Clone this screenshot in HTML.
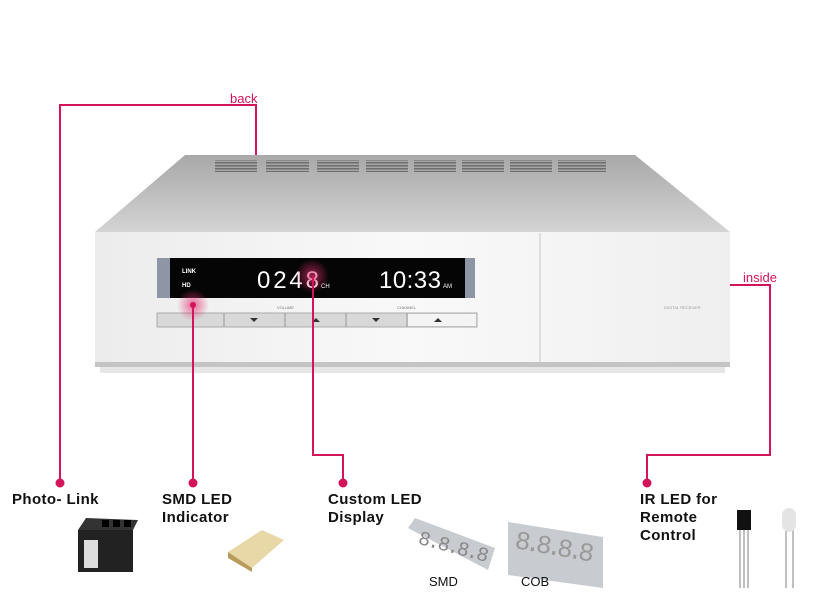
<!DOCTYPE html>
<html><head><meta charset="utf-8"><style>
body{margin:0;width:818px;height:600px;background:#fff;position:relative;overflow:hidden;font-family:"Liberation Sans",sans-serif}
.a{position:absolute}
.lbl{position:absolute;font-weight:bold;font-size:15px;letter-spacing:0.4px;line-height:18px;color:#111}
</style></head><body>
<svg class="a" style="left:0;top:0" width="818" height="600">
<defs>
<linearGradient id="top" x1="0" y1="0" x2="0" y2="1"><stop offset="0" stop-color="#a8a8a8"/><stop offset="1" stop-color="#d4d4d4"/></linearGradient>
<linearGradient id="front" x1="0" y1="0" x2="1" y2="0"><stop offset="0" stop-color="#ececec"/><stop offset=".5" stop-color="#f9f9f9"/><stop offset="1" stop-color="#efefef"/></linearGradient>
<radialGradient id="glow"><stop offset="0" stop-color="#e0306f" stop-opacity=".7"/><stop offset="1" stop-color="#e0306f" stop-opacity="0"/></radialGradient>
<pattern id="vent" width="4" height="3" patternUnits="userSpaceOnUse"><rect width="4" height="1.6" fill="#6f6f6f"/><rect y="1.6" width="4" height="1.4" fill="#a5a5a5"/></pattern>
</defs>
<polygon points="185,155 635,155 730,232 95,232" fill="url(#top)"/>
<g fill="url(#vent)">
<rect x="215" y="160" width="42" height="12"/><rect x="266" y="160" width="43" height="12"/><rect x="317" y="160" width="42" height="12"/><rect x="366" y="160" width="42" height="12"/><rect x="414" y="160" width="42" height="12"/><rect x="462" y="160" width="42" height="12"/><rect x="510" y="160" width="42" height="12"/><rect x="558" y="160" width="48" height="12"/>
</g>
<rect x="95" y="232" width="635" height="133" fill="url(#front)"/>
<rect x="95" y="362" width="635" height="5" fill="#c4c4c4"/>
<rect x="100" y="367" width="625" height="6" fill="#e6e6e6"/>
<line x1="540" y1="233" x2="540" y2="364" stroke="#c8c8c8"/>
<rect x="157" y="258" width="318" height="40" fill="#8e96a6"/>
<rect x="170" y="258" width="295" height="40" fill="#050505"/>
<g fill="#fff" font-family="Liberation Sans,sans-serif">
<text x="182" y="273" font-size="6" font-weight="bold">LINK</text>
<text x="182" y="287" font-size="6" font-weight="bold">HD</text>
<text x="257" y="288" font-size="24" textLength="62">0248</text>
<text x="321" y="288" font-size="6">CH</text>
<text x="379" y="288" font-size="24" textLength="62">10:33</text>
<text x="443" y="288" font-size="6">AM</text>
</g>
<text x="277" y="309" font-size="4" fill="#777">VOLUME</text>
<text x="397" y="309" font-size="4" fill="#777">CHANNEL</text>
<text x="664" y="309" font-size="4" fill="#999">DIGITAL RECEIVER</text>
<rect x="157" y="313" width="320" height="14" fill="#d8d8d8" stroke="#aaa"/>
<rect x="408" y="314" width="68" height="12" fill="#f4f4f4"/>
<g stroke="#999"><line x1="224" y1="313" x2="224" y2="327"/><line x1="285" y1="313" x2="285" y2="327"/><line x1="346" y1="313" x2="346" y2="327"/><line x1="407" y1="313" x2="407" y2="327"/></g>
<g fill="#333"><polygon points="250,318 258,318 254,322"/><polygon points="312,322 320,322 316,318"/><polygon points="372,318 380,318 376,322"/><polygon points="434,322 442,322 438,318"/></g>
<circle cx="193" cy="305" r="16" fill="url(#glow)"/>
<circle cx="312" cy="276" r="17" fill="url(#glow)"/>
<!-- components -->
<rect x="78" y="530" width="55" height="42" fill="#222"/><polygon points="78,530 133,530 138,520 86,518" fill="#333"/>
<rect x="84" y="540" width="14" height="28" fill="#ddd"/>
<rect x="102" y="520" width="7" height="7" fill="#000"/><rect x="113" y="520" width="7" height="7" fill="#000"/><rect x="124" y="520" width="7" height="7" fill="#000"/>
<polygon points="228,552 262,530 284,540 252,568" fill="#e8d8a8"/><polygon points="228,552 252,568 252,572 228,558" fill="#b89a5a"/>
<polygon points="408,528 415,518 495,548 488,570" fill="#c8ccd0"/>
<text x="418" y="552" font-size="20" fill="#888" transform="rotate(15 450 545)" font-family="Liberation Mono,monospace" textLength="72">8.8.8.8</text>
<polygon points="508,522 603,537 603,588 508,575" fill="#c8ccd0"/>
<text x="515" y="555" font-size="26" fill="#999" transform="rotate(10 555 545)" font-family="Liberation Mono,monospace" textLength="80">8.8.8.8</text>
<rect x="737" y="510" width="14" height="20" fill="#111"/>
<g stroke="#aaa" stroke-width="1.5"><line x1="740" y1="530" x2="740" y2="588"/><line x1="744" y1="530" x2="744" y2="588"/><line x1="748" y1="530" x2="748" y2="588"/><line x1="786" y1="530" x2="786" y2="588"/><line x1="793" y1="530" x2="793" y2="588"/></g>
<rect x="782" y="508" width="14" height="24" rx="7" fill="#e4e4e4"/>
<!-- pink lines -->
<g stroke="#d4145a" stroke-width="2" fill="none">
<polyline points="60,482 60,105 256,105 256,155"/>
<line x1="193" y1="305" x2="193" y2="482"/>
<polyline points="313,276 313,455 343,455 343,482"/>
<polyline points="730,285 770,285 770,455 647,455 647,482"/>
</g>
<g fill="#d4145a"><circle cx="60" cy="483" r="4.5"/><circle cx="193" cy="483" r="4.5"/><circle cx="343" cy="483" r="4.5"/><circle cx="647" cy="483" r="4.5"/><circle cx="193" cy="305" r="3"/></g>
<text x="230" y="103" font-size="13" fill="#d4145a">back</text>
<text x="743" y="282" font-size="13" fill="#d4145a">inside</text>
<text x="429" y="586" font-size="13" fill="#111">SMD</text>
<text x="521" y="586" font-size="13" fill="#111">COB</text>
</svg>
<div class="lbl" style="left:12px;top:491px">Photo- Link</div>
<div class="lbl" style="left:162px;top:491px">SMD LED<br>Indicator</div>
<div class="lbl" style="left:328px;top:491px">Custom LED<br>Display</div>
<div class="lbl" style="left:640px;top:491px">IR LED for<br>Remote<br>Control</div>
</body></html>
